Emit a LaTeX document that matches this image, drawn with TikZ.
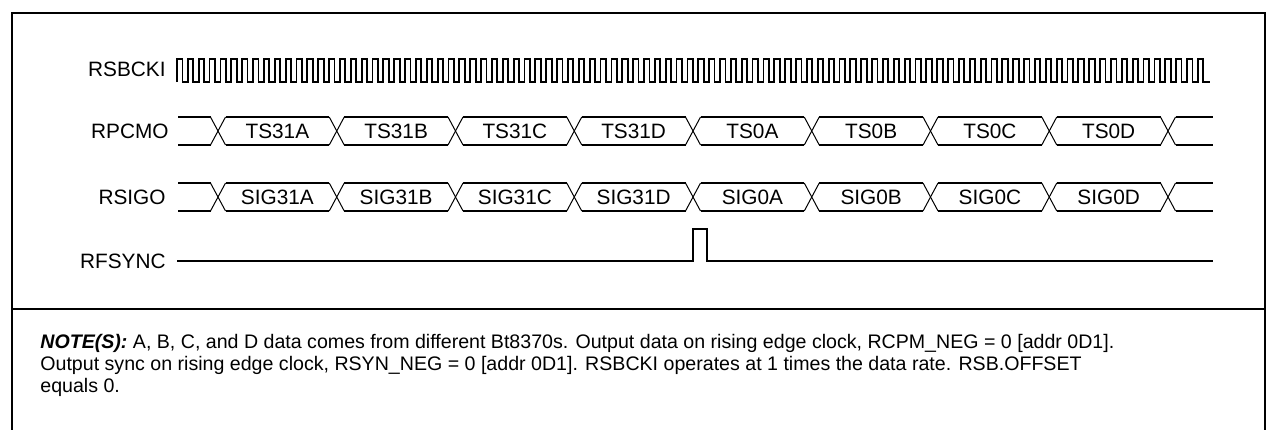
\documentclass[tikz,border=0pt]{standalone}
\usepackage{fontspec}
\setmainfont{Liberation Sans}

\begin{document}
\begin{tikzpicture}[x=0.5pt, y=-0.5pt,
          sig/.style={line width=1pt},
          clk/.style={line width=0.9pt},
          xing/.style={line width=0.5pt},
          lbl/.style={anchor=east, inner sep=0pt, font=\fontsize{10.4}{12}\selectfont},
          slot/.style={inner sep=0pt, font=\fontsize{10.4}{12}\selectfont},
          note/.style={anchor=base west, inner sep=0pt, font=\fontsize{9.8}{12}\selectfont}]
          \useasboundingbox (0,0) rectangle (1267,429);

          \draw[sig] (12,440) -- (12,13) -- (1265,13) -- (1265,440);
          \draw[sig] (12,309) -- (1265,309);

          \node[lbl] (ck) at (166, 69) {RSBCKI};
          \node[lbl] (pcm) at (169,131) {RPCMO};
          \node[lbl] (sg) at (166,197) {RSIGO};
          \node[lbl] (fs) at (166,261) {RFSYNC};

          \draw[clk] (177,82) \foreach \k in {1,...,95} {
                     -- ++(0,-23) -- ++(5.43,0) -- ++(0,23) -- ++(5.43,0)} -- (1210,82);

          \draw[sig] (178,117) -- (210.5,117);
          \draw[sig] (178,145) -- (210.5,145);
          \draw[sig] (1175.5,117) -- (1213,117);
          \draw[sig] (1175.5,145) -- (1213,145);
          \draw[sig] (178,183) -- (210.5,183);
          \draw[sig] (178,211) -- (210.5,211);
          \draw[sig] (1175.5,183) -- (1213,183);
          \draw[sig] (1175.5,211) -- (1213,211);

          \foreach \k in {0,...,8} {
            \pgfmathsetmacro\t{218+118.75*\k}
            \draw[xing] (\t-7.5,117) -- (\t+7.5,145);
            \draw[xing] (\t-7.5,145) -- (\t+7.5,117);
            \draw[xing] (\t-7.5,183) -- (\t+7.5,211);
            \draw[xing] (\t-7.5,211) -- (\t+7.5,183);
          }

          \foreach \name [count=\i from 0] in {TS31A,TS31B,TS31C,TS31D,TS0A,TS0B,TS0C,TS0D} {
            \pgfmathsetmacro\ta{218+118.75*\i}
            \pgfmathsetmacro\tb{\ta+118.75}
            \draw[sig] (\ta+7.5,117) -- (\tb-7.5,117);
            \draw[sig] (\ta+7.5,145) -- (\tb-7.5,145);
            \node[slot] (ts\i) at ({(\ta+\tb)/2},131) {\name};
          }

          \foreach \name [count=\i from 0] in {SIG31A,SIG31B,SIG31C,SIG31D,SIG0A,SIG0B,SIG0C,SIG0D} {
            \pgfmathsetmacro\ta{218+118.75*\i}
            \pgfmathsetmacro\tb{\ta+118.75}
            \draw[sig] (\ta+7.5,183) -- (\tb-7.5,183);
            \draw[sig] (\ta+7.5,211) -- (\tb-7.5,211);
            \node[slot] (sig\i) at ({(\ta+\tb)/2},197) {\name};
          }

          \draw[sig] (177,261) -- (693,261) -- (693,229) -- (707,229) -- (707,261) -- (1213,261);

          \node[note] (n1) at (40,348) {\textbf{\textit{NOTE(S):}} A, B, C, and D data comes from different Bt8370s. Output data on rising edge clock, RCPM\_NEG = 0 [addr 0D1].};
          \node[note] (n2) at (40,370) {Output sync on rising edge clock, RSYN\_NEG = 0 [addr 0D1]. RSBCKI operates at 1 times the data rate. RSB.OFFSET};
          \node[note] (n3) at (40,392) {equals 0.};
        \end{tikzpicture}
\end{document}
